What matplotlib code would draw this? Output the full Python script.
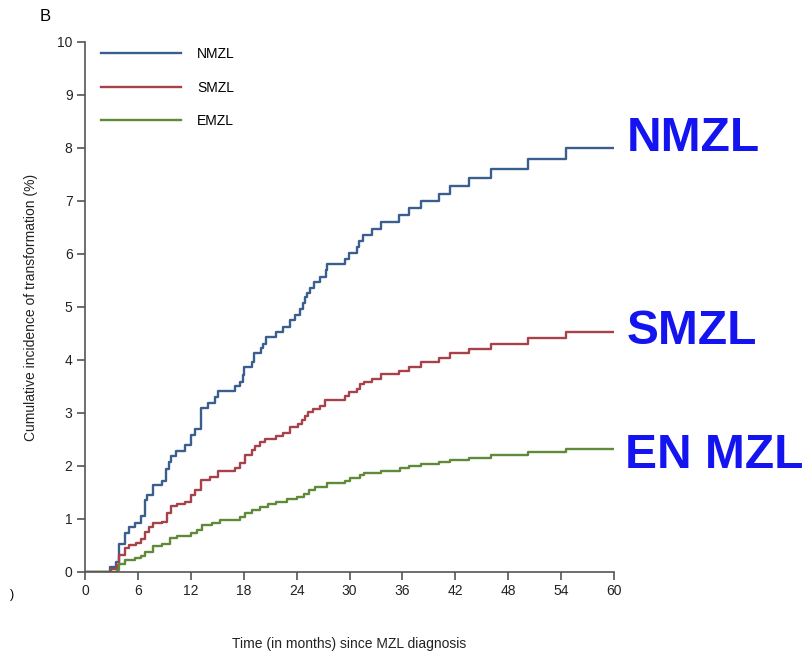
import matplotlib.pyplot as plt

# cumulative incidence of transformation (%) by months since diagnosis
nmzl_t = [0, 2.8, 3.5, 3.9, 4.5, 5.0, 5.7, 6.4, 6.8, 7.0, 7.75, 8.7, 9.2, 9.5, 9.8,
          10.3, 11.3, 12.0, 12.5, 13.2, 14.0, 14.7, 15.1, 17.0, 17.6, 17.9, 18.0,
          18.9, 19.2, 20.0, 20.2, 20.5, 21.7, 22.5, 23.2, 23.8, 24.4, 24.7, 24.9,
          25.2, 25.5, 26.0, 26.6, 27.3, 27.5, 29.5, 29.9, 30.8, 31.1, 31.5, 32.5,
          33.6, 35.6, 36.8, 38.1, 40.1, 41.4, 43.6, 46.1, 50.3, 54.6, 60]
nmzl_v = [0, 0.1, 0.19, 0.53, 0.73, 0.85, 0.93, 1.05, 1.35, 1.45, 1.65, 1.72, 1.95,
          2.08, 2.18, 2.29, 2.40, 2.58, 2.70, 3.1, 3.19, 3.3, 3.42, 3.5, 3.59, 3.72,
          3.87, 3.97, 4.13, 4.22, 4.31, 4.44, 4.53, 4.63, 4.75, 4.85, 4.96, 5.07,
          5.18, 5.27, 5.36, 5.47, 5.57, 5.70, 5.81, 5.90, 6.01, 6.14, 6.25, 6.36,
          6.48, 6.61, 6.73, 6.86, 7.0, 7.13, 7.28, 7.43, 7.6, 7.79, 8.0, 8.0]

smzl_t = [0, 2.9, 3.6, 3.9, 4.5, 5.0, 5.8, 6.4, 6.8, 7.2, 7.75, 8.7, 9.3, 9.8, 10.4,
          11.3, 12.0, 12.5, 13.2, 14.2, 15.1, 17.0, 17.6, 18.1, 18.9, 19.3, 19.8,
          20.4, 21.7, 22.5, 23.2, 24.2, 24.6, 24.9, 25.3, 25.9, 26.6, 27.2, 29.5,
          29.9, 30.8, 31.2, 31.6, 32.5, 33.6, 35.6, 36.8, 38.1, 40.1, 41.4, 43.6,
          46.1, 50.3, 54.6, 60]
smzl_v = [0, 0.05, 0.13, 0.32, 0.45, 0.5, 0.55, 0.62, 0.76, 0.85, 0.92, 0.95, 1.11,
          1.24, 1.28, 1.33, 1.45, 1.55, 1.74, 1.80, 1.91, 1.96, 2.06, 2.2, 2.3,
          2.38, 2.45, 2.51, 2.57, 2.63, 2.73, 2.79, 2.87, 2.94, 3.02, 3.08, 3.14,
          3.25, 3.32, 3.40, 3.46, 3.55, 3.59, 3.65, 3.74, 3.80, 3.87, 3.96, 4.03,
          4.13, 4.21, 4.31, 4.41, 4.53, 4.53]

emzl_t = [0, 3.6, 3.9, 4.5, 5.7, 6.4, 6.8, 7.75, 8.7, 9.6, 10.4, 12.0, 12.7, 13.3,
          14.4, 15.3, 17.6, 18.1, 18.9, 19.8, 20.7, 21.7, 22.9, 24.0, 24.8, 25.4,
          26.1, 27.4, 29.5, 30.0, 31.2, 31.7, 33.6, 35.7, 36.8, 38.1, 40.1, 41.4,
          43.6, 46.1, 50.3, 54.6, 60]
emzl_v = [0, 0.03, 0.16, 0.23, 0.27, 0.30, 0.38, 0.49, 0.53, 0.64, 0.68, 0.73, 0.79,
          0.89, 0.93, 0.98, 1.04, 1.12, 1.17, 1.23, 1.28, 1.33, 1.38, 1.42, 1.48,
          1.55, 1.60, 1.67, 1.72, 1.77, 1.83, 1.86, 1.91, 1.96, 2.00, 2.03, 2.07,
          2.11, 2.16, 2.21, 2.27, 2.33, 2.33]

x_ticks = list(range(0, 61, 6))
y_ticks = list(range(0, 11))

plt.rcParams['font.family'] = ['Liberation Sans', 'DejaVu Sans']

fig = plt.figure(figsize=(8.03, 6.52), dpi=100)
ax = fig.add_axes([0.1059, 0.1227, 0.6587, 0.8129])

ax.step(nmzl_t, nmzl_v, where='post', color='#3a5f8f', lw=1.7, label='NMZL')
ax.step(smzl_t, smzl_v, where='post', color='#a8424a', lw=1.7, label='SMZL')
ax.step(emzl_t, emzl_v, where='post', color='#5f8a3a', lw=1.7, label='EMZL')

ax.set_xlim(0, 60)
ax.set_ylim(0, 10)
ax.set_xticks(x_ticks)
ax.set_yticks(y_ticks)
for s in ['top', 'right']:
    ax.spines[s].set_visible(False)
for s in ['left', 'bottom']:
    ax.spines[s].set_color('#555555')
    ax.spines[s].set_linewidth(1.2)
ax.tick_params(direction='out', length=6, width=1.2, color='#555555',
               labelsize=10, labelcolor='#222222', pad=3)

ax.set_xlabel('Time (in months) since MZL diagnosis', fontsize=10, color='#222222')
ax.xaxis.set_label_coords(0.5, -0.122)
ax.set_ylabel('Cumulative incidence of transformation (%)', fontsize=10,
              labelpad=14, color='#222222')

ax.legend(loc='upper left', bbox_to_anchor=(0.006, 1.014), frameon=False,
          fontsize=10, handlelength=5.8, handletextpad=1.15, labelspacing=1.4)

fig.text(0.056, 0.974, 'B', fontsize=12, ha='center', va='center')
fig.text(0.015, 0.087, ')', fontsize=9, ha='center', va='center')

big = dict(fontsize=34.5, fontweight='bold', color='#1414f0', va='center', ha='left')
fig.text(0.780, 0.788, 'NMZL', **big)
fig.text(0.781, 0.491, 'SMZL', **big)
fig.text(0.778, 0.302, 'EN MZL', **big)

fig.savefig('out.png', dpi=100)
